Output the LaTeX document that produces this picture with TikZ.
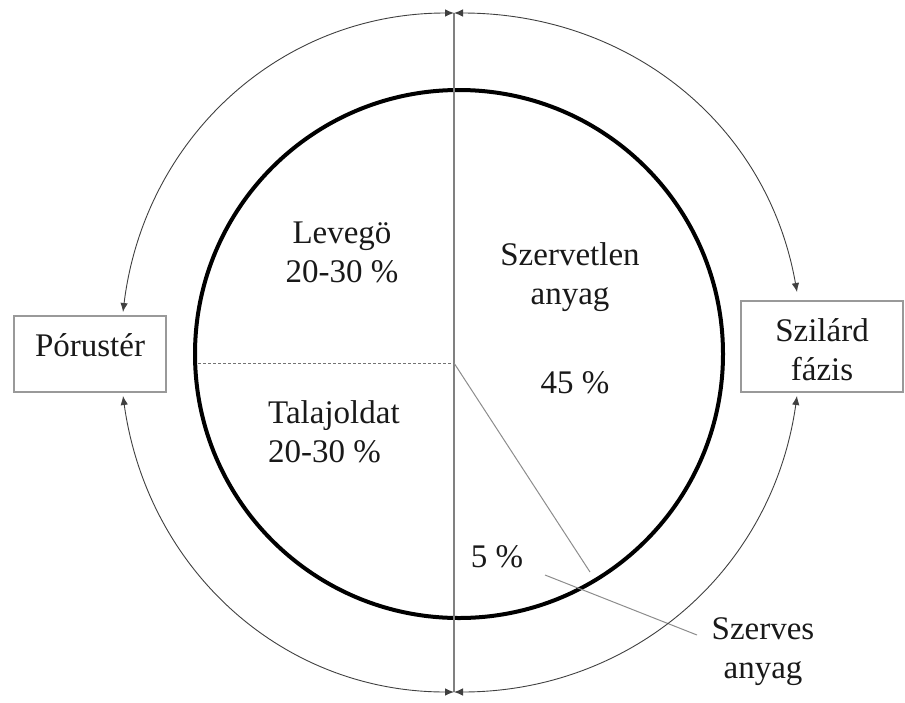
\documentclass[tikz,border=0pt]{standalone}
\usepackage{fontspec}
\setmainfont{Liberation Serif}
\usetikzlibrary{arrows.meta}
\begin{document}
\begin{tikzpicture}[x=1pt,y=1pt,
  lbl/.style={font=\fontsize{33}{39}\selectfont, inner sep=0pt, text=black!90},
  boxst/.style={draw=black!40, line width=1.5pt, inner sep=0pt},
  arcst/.style={draw=black!75, line width=0.9pt, {Latex[length=9pt,width=7.5pt]}-{Latex[length=9pt,width=7.5pt]}},
  thin/.style={draw=black!50, line width=1.2pt}]
\useasboundingbox (0,0) rectangle (905,-702);
% coordinates
\coordinate (T) at (454,-13);
\coordinate (B) at (454,-692);
\coordinate (C) at (454,-363);
\coordinate (D) at (198,-363);
\coordinate (R) at (590,-572);
\coordinate (S1) at (545,-575);
\coordinate (S2) at (697,-635);
\coordinate (Pt) at (123,-312);
\coordinate (Pb) at (123,-396);
\coordinate (Qt) at (797,-292);
\coordinate (Qb) at (797,-396);
% inner circle
\node[draw=black, line width=4pt, circle, minimum size=528pt, inner sep=0pt] (circ) at (459,-354) {};
% lines
\draw[thin] (T) -- (B);
\draw[draw=black!55, line width=0.9pt, dashed, dash pattern=on 3pt off 2pt] (D) -- (C);
\draw[draw=black!45, line width=1pt] (C) -- (R);
\draw[draw=black!45, line width=1pt] (S1) -- (S2);
% boxes
\node[boxst, minimum width=152pt, minimum height=76pt] (P) at (90,-354) {};
\node[lbl] (Ptext) at (90,-345) {Pórustér};
\node[boxst, minimum width=162pt, minimum height=91pt] (Q) at (822,-346.5) {};
\node[lbl, align=center] (Qtext) at (822,-350) {Szilárd\\fázis};
% arcs
\draw[arcst] (T) to[out=180, in=83] (Pt);
\draw[arcst] (T) to[out=0, in=100] (Qt);
\draw[arcst] (Pb) to[out=278, in=180] (B);
\draw[arcst] (Qb) to[out=262, in=0] (B);
% labels
\node[lbl, align=center] (lev) at (342,-252) {Levegö\\20-30~\%};
\node[lbl, align=left, anchor=west] (tal) at (268,-432) {Talajoldat\\20-30~\%};
\node[lbl, align=center] (szv) at (570,-277) {Szervetlen\\anyag};
\node[lbl] (p45) at (575,-383) {45~\%};
\node[lbl] (p5) at (497,-557) {5~\%};
\node[lbl, align=center] (szs) at (763,-652) {Szerves\\anyag};
\end{tikzpicture}
\end{document}
